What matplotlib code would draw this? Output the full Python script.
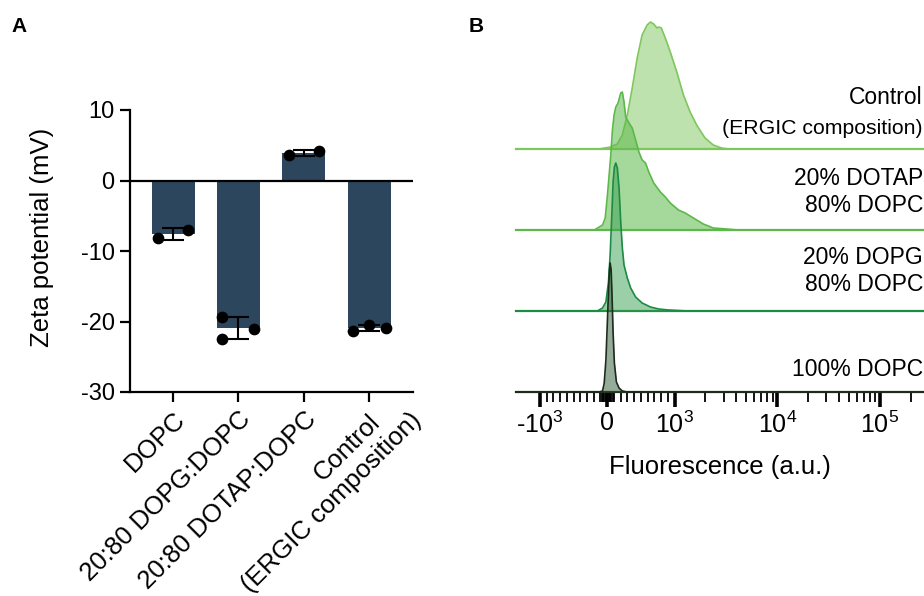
import numpy as np
import matplotlib
matplotlib.use('Agg')
import matplotlib.pyplot as plt
from matplotlib.transforms import ScaledTranslation

plt.rcParams['font.family'] = ['Liberation Sans', 'DejaVu Sans']
plt.rcParams['mathtext.fontset'] = 'custom'
plt.rcParams['mathtext.rm'] = 'Liberation Sans'

# Panel A: zeta potential (mV), replicate measurements
groups = ['DOPC', '20:80 DOPG:DOPC', '20:80 DOTAP:DOPC', 'Control\n(ERGIC composition)']
zeta_reps = [[-8.2, -7.0],
             [-19.4, -22.5, -21.0],
             [3.6, 4.2],
             [-21.3, -20.5, -20.9]]

# Panel B: flow cytometry histograms (fluorescence a.u. vs counts)
fl_dopc = [-118, -69, -44, -19, 0, 19, 34, 44, 59, 74, 88, 107, 137, 176, 225, 294]
cnt_dopc = [0, 1, 9, 32, 65, 99, 122, 129, 122, 92, 59, 29, 10, 4, 1, 0]

fl_dopg = [-147, -69, -19, 19, 44, 69, 88, 107, 128, 151, 176, 201, 225, 250,
           299, 349, 422, 519, 643, 765, 912, 1365]
cnt_dopg = [0, 3, 9, 29, 56, 96, 129, 144, 148, 143, 123, 89, 63, 46,
            33, 23, 14, 8, 4, 2, 1, 0]

fl_dotap = [-166, -69, -29, 4, 29, 54, 78, 103, 128, 162, 201, 225, 250, 275,
            324, 372, 422, 471, 519, 569, 618, 691, 790, 863, 937, 1093, 1269,
            1526, 1906, 2383, 3203, 4151]
cnt_dotap = [1, 5, 12, 35, 55, 75, 100, 115, 123, 127, 137, 138, 128, 113,
             107, 102, 90, 78, 70, 67, 58, 47, 38, 33, 27, 20, 17,
             12, 6, 2, 1, 0]

fl_ctrl = [-118, 54, 78, 151, 225, 299, 372, 446, 519, 593, 643, 691, 740, 765,
           804, 863, 937, 1052, 1222, 1418, 1642, 1981, 2383, 2865, 3330]
cnt_ctrl = [0, 2, 3, 5, 14, 34, 61, 91, 114, 124, 127, 125, 121, 122,
            121, 111, 97, 77, 54, 37, 24, 11, 4, 1, 0]

ridge_labels = ['100% DOPC', '20% DOPG\n80% DOPC', '20% DOTAP\n80% DOPC', 'Control']

fig = plt.figure(figsize=(9.24, 5.96), dpi=100)

# ---------- A ----------
axA = fig.add_axes([130 / 924, 1 - 392 / 596, 283 / 924, 282 / 596])
x = np.arange(len(groups))
means = [np.mean(r) for r in zeta_reps]
sds = [np.std(r, ddof=1) for r in zeta_reps]
axA.bar(x, means, width=0.66, color='#2b465d', zorder=1)
axA.axhline(0, color='black', lw=1.6, zorder=2)
axA.errorbar(x, means, yerr=sds, fmt='none', ecolor='black', elinewidth=1.5,
             capsize=8, capthick=1.5, zorder=3)
offsets = [[-0.23, 0.23], [-0.25, -0.25, 0.23], [-0.23, 0.23], [-0.25, 0.0, 0.25]]
for i, reps in enumerate(zeta_reps):
    axA.scatter(x[i] + np.array(offsets[i]), reps, s=55, color='black', zorder=4,
                clip_on=False)
axA.set_xlim(-0.66, 3.67)
axA.set_ylim(-30, 10)
axA.set_yticks([-30, -20, -10, 0, 10])
axA.set_yticklabels(['-30', '-20', '-10', '0', '10'])
axA.set_xticks(x)
# last (two-line) category label is placed by hand below
axA.set_xticklabels(groups[:3] + [''], rotation=45, ha='right',
                    rotation_mode='anchor', fontsize=18.5)
ctrl_line1, ctrl_line2 = groups[3].split('\n')
xt = axA.get_xaxis_transform()
axA.text(x[3], 0, ctrl_line1, rotation=45, ha='right', va='top',
         rotation_mode='anchor', fontsize=18.5,
         transform=xt + ScaledTranslation(-0.01, -0.18, fig.dpi_scale_trans))
axA.text(x[3], 0, ctrl_line2, rotation=45, ha='right', va='top',
         rotation_mode='anchor', fontsize=18.5,
         transform=xt + ScaledTranslation(0.40, -0.16, fig.dpi_scale_trans))
for s in ['top', 'right']:
    axA.spines[s].set_visible(False)
for s in ['left', 'bottom']:
    axA.spines[s].set_linewidth(1.6)
axA.tick_params(length=7, width=1.6, pad=4)
axA.tick_params(axis='y', labelsize=17)
axA.set_ylabel('Zeta potential (mV)', fontsize=18.5)
axA.yaxis.set_label_coords(-0.27, 0.55)

# ---------- B ----------
axB = fig.add_axes([516 / 924, 1 - 392 / 596, 407 / 924, 382 / 596])
axB.set_xscale('symlog', linthresh=1000, linscale=0.59)
axB.set_xlim(-1706, 262144)
axB.set_ylim(0, 382)

ridges = [(fl_dopc, cnt_dopc, '#1c2b1c', '#2f5a32', 0.5),
          (fl_dopg, cnt_dopg, '#1d8a45', '#38a050', 0.5),
          (fl_dotap, cnt_dotap, '#5cb84a', '#5cb84a', 0.55),
          (fl_ctrl, cnt_ctrl, '#7fc65c', '#7fc65c', 0.5)]
spacing = 81
for k in range(3, -1, -1):
    fl, cnt, lc, fc, a = ridges[k]
    base = k * spacing
    y = base + np.array(cnt)
    axB.axhline(base, color=lc, lw=1.6, zorder=2 + (3 - k) * 2, clip_on=False)
    axB.fill_between(fl, base, y, color=fc, alpha=a, lw=0, zorder=2 + (3 - k) * 2)
    axB.plot(fl, y, color=lc, lw=1.2, zorder=3 + (3 - k) * 2)

axB.set_xticks([-1000, 0, 1000, 10000, 100000])
axB.set_xticklabels([r'-$\mathregular{10^{3}}$', '0', r'$\mathregular{10^{3}}$',
                     r'$\mathregular{10^{4}}$', r'$\mathregular{10^{5}}$'])
minor = (list(range(-900, -100, 100)) + list(range(-100, 101, 20)) +
         list(range(200, 1000, 100)) + list(range(2000, 10000, 1000)) +
         list(range(20000, 100000, 10000)) + [200000])
axB.set_xticks(minor, minor=True)
axB.tick_params(axis='x', which='major', length=11, width=2.6, labelsize=18, pad=3)
axB.tick_params(axis='x', which='minor', length=7, width=1.3)
axB.set_yticks([])
for s in ['top', 'right', 'left', 'bottom']:
    axB.spines[s].set_visible(False)
axB.set_xlabel('Fluorescence (a.u.)', fontsize=18.5, labelpad=12)

tr = axB.get_yaxis_transform()
axB.text(1.0, 294, 'Control', transform=tr, ha='right', va='center', fontsize=16.5)
axB.text(1.0, 264, '(ERGIC composition)', transform=tr, ha='right', va='center',
         fontsize=15.3)
axB.text(1.0, 200, ridge_labels[2], transform=tr, ha='right', va='center',
         fontsize=16.5, linespacing=1.25)
axB.text(1.0, 121, ridge_labels[1], transform=tr, ha='right', va='center',
         fontsize=16.5, linespacing=1.25)
axB.text(1.0, 23, ridge_labels[0], transform=tr, ha='right', va='center',
         fontsize=16.5)

fig.text(19 / 924, 1 - 27 / 596, 'A', fontsize=15, fontweight='bold', ha='center', va='center')
fig.text(476 / 924, 1 - 27 / 596, 'B', fontsize=15, fontweight='bold', ha='center', va='center')

fig.savefig('out.png', dpi=100)
